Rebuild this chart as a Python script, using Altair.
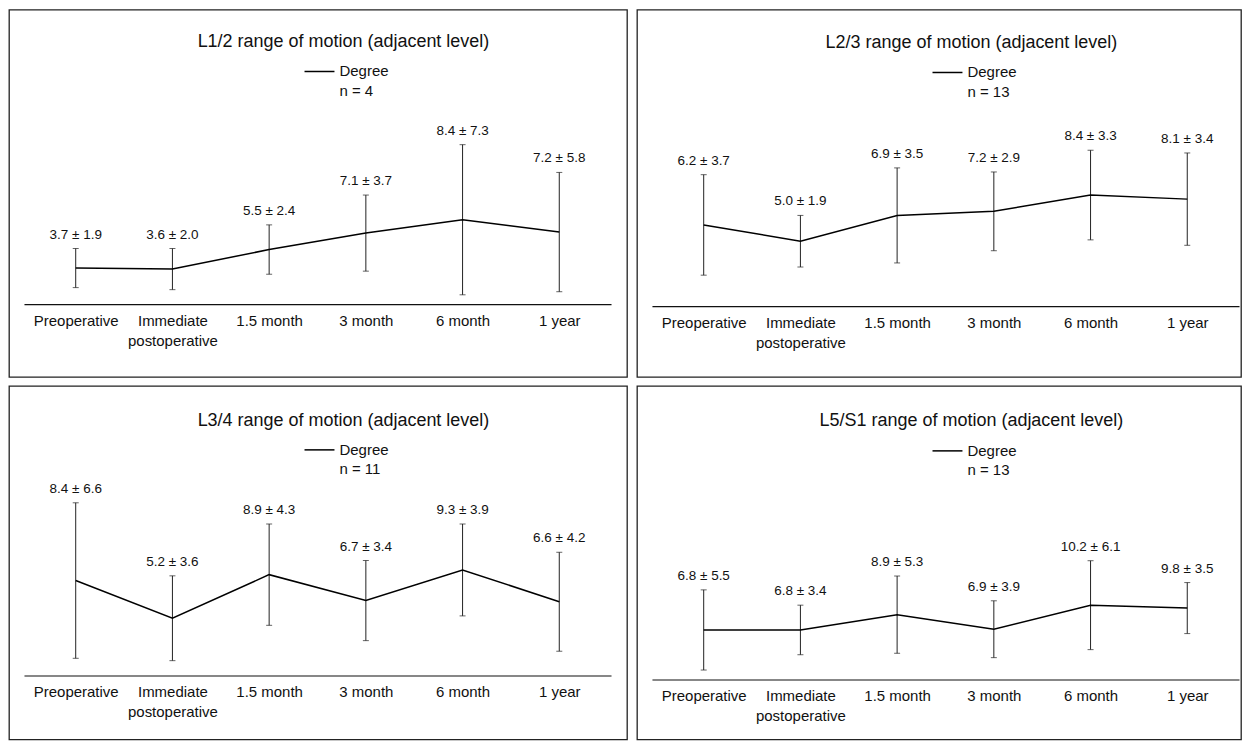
import altair as alt
import pandas as pd

CATS = ["Preoperative", "Immediate postoperative", "1.5 month", "3 month", "6 month", "1 year"]

TITLES = [
    "L1/2 range of motion (adjacent level)",
    "L2/3 range of motion (adjacent level)",
    "L3/4 range of motion (adjacent level)",
    "L5/S1 range of motion (adjacent level)",
]
N_LABELS = ["n = 4", "n = 13", "n = 11", "n = 13"]
LEGEND_LABEL = "Degree"

MEAN_L12 = [3.7, 3.6, 5.5, 7.1, 8.4, 7.2]
SD_L12 = [1.9, 2.0, 2.4, 3.7, 7.3, 5.8]
MEAN_L23 = [6.2, 5.0, 6.9, 7.2, 8.4, 8.1]
SD_L23 = [3.7, 1.9, 3.5, 2.9, 3.3, 3.4]
MEAN_L34 = [8.4, 5.2, 8.9, 6.7, 9.3, 6.6]
SD_L34 = [6.6, 3.6, 4.3, 3.4, 3.9, 4.2]
MEAN_L5S1 = [6.8, 6.8, 8.9, 6.9, 10.2, 9.8]
SD_L5S1 = [5.5, 3.4, 5.3, 3.9, 6.1, 3.5]

MEANS = [MEAN_L12, MEAN_L23, MEAN_L34, MEAN_L5S1]
SDS = [SD_L12, SD_L23, SD_L34, SD_L5S1]

# layout (pixels): width, height, zero line y, px per unit, axis offset, title/legend y
LAYOUT = [
    dict(w=619, h=368, z=297, s=10.3, off=-73, ty=32, ly=62, ny=82),
    dict(w=605, h=368, z=300, s=13.6, off=-71, ty=33, ly=63, ny=83),
    dict(w=619, h=354, z=294, s=11.8, off=-64, ty=35, ly=64, ny=83),
    dict(w=605, h=354, z=294, s=7.3, off=-60, ty=35, ly=65, ny=84),
]

FONT = "Liberation Sans"


def panel(i):
    L = LAYOUT[i]
    df = pd.DataFrame({"cat": CATS, "mean": MEANS[i], "sd": SDS[i]})
    base = alt.Chart(df).transform_calculate(
        lo="datum.mean - datum.sd",
        hi="datum.mean + datum.sd",
        label="format(datum.mean, '.1f') + ' ± ' + format(datum.sd, '.1f')",
    )
    ydom = [-(L["h"] - L["z"]) / L["s"], L["z"] / L["s"]]
    yscale = alt.Scale(domain=ydom, nice=False, zero=False)
    x = alt.X(
        "cat:N",
        sort=CATS,
        scale=alt.Scale(type="point", range=[15, 603], padding=0.535),
        axis=alt.Axis(
            title=None,
            ticks=False,
            domainColor="#111111",
            domainWidth=1.2,
            labelAngle=0,
            labelFont=FONT,
            labelFontSize=15,
            labelColor="#111111",
            labelPadding=9,
            labelLineHeight=20,
            offset=L["off"],
            labelExpr="datum.label == 'Immediate postoperative' ? ['Immediate', 'postoperative'] : datum.label",
        ),
    )
    bars = base.mark_rule(color="#222222", strokeWidth=1).encode(
        x=x, y=alt.Y("lo:Q", scale=yscale, axis=None), y2="hi:Q"
    )
    cap_lo = base.mark_tick(color="#222222", size=6, thickness=1).encode(
        x=x, y=alt.Y("lo:Q", scale=yscale, axis=None)
    )
    cap_hi = base.mark_tick(color="#222222", size=6, thickness=1).encode(
        x=x, y=alt.Y("hi:Q", scale=yscale, axis=None)
    )
    line = base.mark_line(color="#000000", strokeWidth=1.5).encode(
        x=x, y=alt.Y("mean:Q", scale=yscale, axis=None)
    )
    labels = base.mark_text(
        font=FONT, fontSize=13.5, color="#111111", baseline="middle", dy=-14
    ).encode(x=x, y=alt.Y("hi:Q", scale=yscale, axis=None), text="label:N")

    title = alt.Chart(alt.Data(values=[{"t": TITLES[i]}])).mark_text(
        font=FONT, fontSize=18, color="#111111", baseline="middle", align="center"
    ).encode(x=alt.value(335), y=alt.value(L["ty"]), text="t:N")
    leg_line = alt.Chart(alt.Data(values=[{"t": LEGEND_LABEL}])).mark_rule(
        color="#000000", strokeWidth=1.5
    ).encode(x=alt.value(296), x2=alt.value(326), y=alt.value(L["ly"]))
    leg_text = alt.Chart(alt.Data(values=[{"t": LEGEND_LABEL}])).mark_text(
        font=FONT, fontSize=15, color="#111111", baseline="middle", align="left"
    ).encode(x=alt.value(331), y=alt.value(L["ly"]), text="t:N")
    n_text = alt.Chart(alt.Data(values=[{"t": N_LABELS[i]}])).mark_text(
        font=FONT, fontSize=15, color="#111111", baseline="middle", align="left"
    ).encode(x=alt.value(331), y=alt.value(L["ny"]), text="t:N")

    return alt.layer(
        bars, cap_lo, cap_hi, line, labels, title, leg_line, leg_text, n_text
    ).properties(width=L["w"], height=L["h"])


top = alt.hconcat(panel(0), panel(1), spacing=8).resolve_scale(x="independent", y="independent")
bottom = alt.hconcat(panel(2), panel(3), spacing=8).resolve_scale(x="independent", y="independent")

chart = (
    alt.vconcat(top, bottom, spacing=7)
    .resolve_scale(x="independent", y="independent")
    .properties(padding=0, background="white")
    .configure_view(stroke="#222222", strokeWidth=1.3)
)

chart.save("out.html", embed_options={"renderer": "svg", "actions": False})
